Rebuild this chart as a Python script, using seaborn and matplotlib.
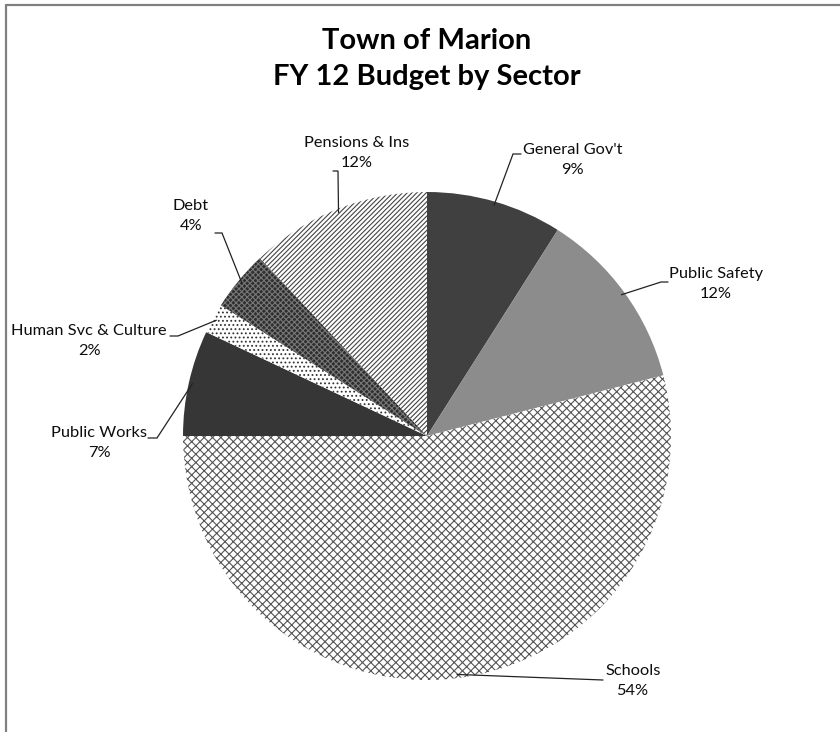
import matplotlib
matplotlib.use("Agg")
import matplotlib.pyplot as plt
import seaborn as sns
import numpy as np
from matplotlib.lines import Line2D

# ---- data ----
sectors = ["General Gov't", "Public Safety", "Schools", "Public Works",
           "Human Svc & Culture", "Debt", "Pensions & Ins"]
shares = [9, 12, 54, 7, 2, 4, 12]

# ---- style ----
sns.set_theme(style="white")
plt.rcParams['font.family'] = ['Lato', 'DejaVu Sans']
plt.rcParams['hatch.linewidth'] = 0.8

face = ['#404040', '#8c8c8c', 'white', '#363636', 'white', '#2e2e2e', 'white']
hatch = [None, None, 'xxxx', None, '....', 'xxxxxx', '///////']
hcol = ['#404040', '#8c8c8c', '#555555', '#363636', '#333333', '#777777', '#444444']

W, H = 840, 732
CX, CY, R = 427, 436, 244

def px(x, y):
    return ((x - CX) / R, (CY - y) / R)

fig = plt.figure(figsize=(W / 100, H / 100), dpi=100)
ax = fig.add_axes([0, 0, 1, 1])

wedges, _ = ax.pie(shares, startangle=90, counterclock=False, radius=1,
                   wedgeprops=dict(linewidth=0))
for w, fc, ht, hc in zip(wedges, face, hatch, hcol):
    w.set_facecolor(fc)
    w.set_edgecolor(hc)
    w.set_linewidth(0)
    if ht:
        w.set_hatch(ht)

ax.set_xlim(-CX / R, (W - CX) / R)
ax.set_ylim(-(H - CY) / R, CY / R)
ax.set_aspect('equal')
ax.axis('off')

# label layout (text anchor, alignment, leader elbow, leader end) in pixel estimates
layout = [
    dict(t=(523, 143), ha='left', elbow=(513, 154), end=(521, 154)),
    dict(t=(669, 267), ha='left', elbow=(661, 282), end=(668, 282)),
    dict(t=(605, 664), ha='left', elbow=None, end=(603, 680)),
    dict(t=(147, 426), ha='right', elbow=(157, 438), end=(148, 438)),
    dict(t=(167, 324), ha='right', elbow=(178, 336), end=(170, 336)),
    dict(t=(209, 199), ha='right', elbow=(222, 233), end=(215, 233)),
    dict(t=(409, 136), ha='right', elbow=(338, 171), end=(333, 171)),
]

total = sum(shares)
for w, name, val, lay in zip(wedges, sectors, shares, layout):
    pct = round(100 * val / total)
    tx, ty = px(*lay['t'])
    ax.text(tx, ty, f"{name}\n{pct}%", ha=lay['ha'], va='top',
            multialignment='center', fontsize=11.8, linespacing=1.55,
            color='#0d0d0d')
    mid = np.deg2rad((w.theta1 + w.theta2) / 2)
    sx, sy = 0.985 * np.cos(mid), 0.985 * np.sin(mid)
    ex, ey = px(*lay['end'])
    if lay['elbow'] is not None:
        bx, by = px(*lay['elbow'])
        ax.plot([sx, bx, ex], [sy, by, ey], color='#222222', lw=0.9,
                solid_joinstyle='miter')
    else:
        ax.plot([sx, ex], [sy, ey], color='#222222', lw=0.9)

fig.text(0.508, 1 - 28 / H, "Town of Marion\nFY 12 Budget by Sector",
         ha='center', va='top', fontsize=21, fontweight='bold',
         linespacing=1.5, color='black')

# chart border (top and left visible)
fig.add_artist(Line2D([6 / W, 6 / W], [0, 1 - 5 / H], transform=fig.transFigure,
                      color='#808080', lw=1.6))
fig.add_artist(Line2D([6 / W, 1], [1 - 5 / H, 1 - 5 / H], transform=fig.transFigure,
                      color='#808080', lw=1.6))

fig.savefig("out.png", dpi=100, facecolor='white')
